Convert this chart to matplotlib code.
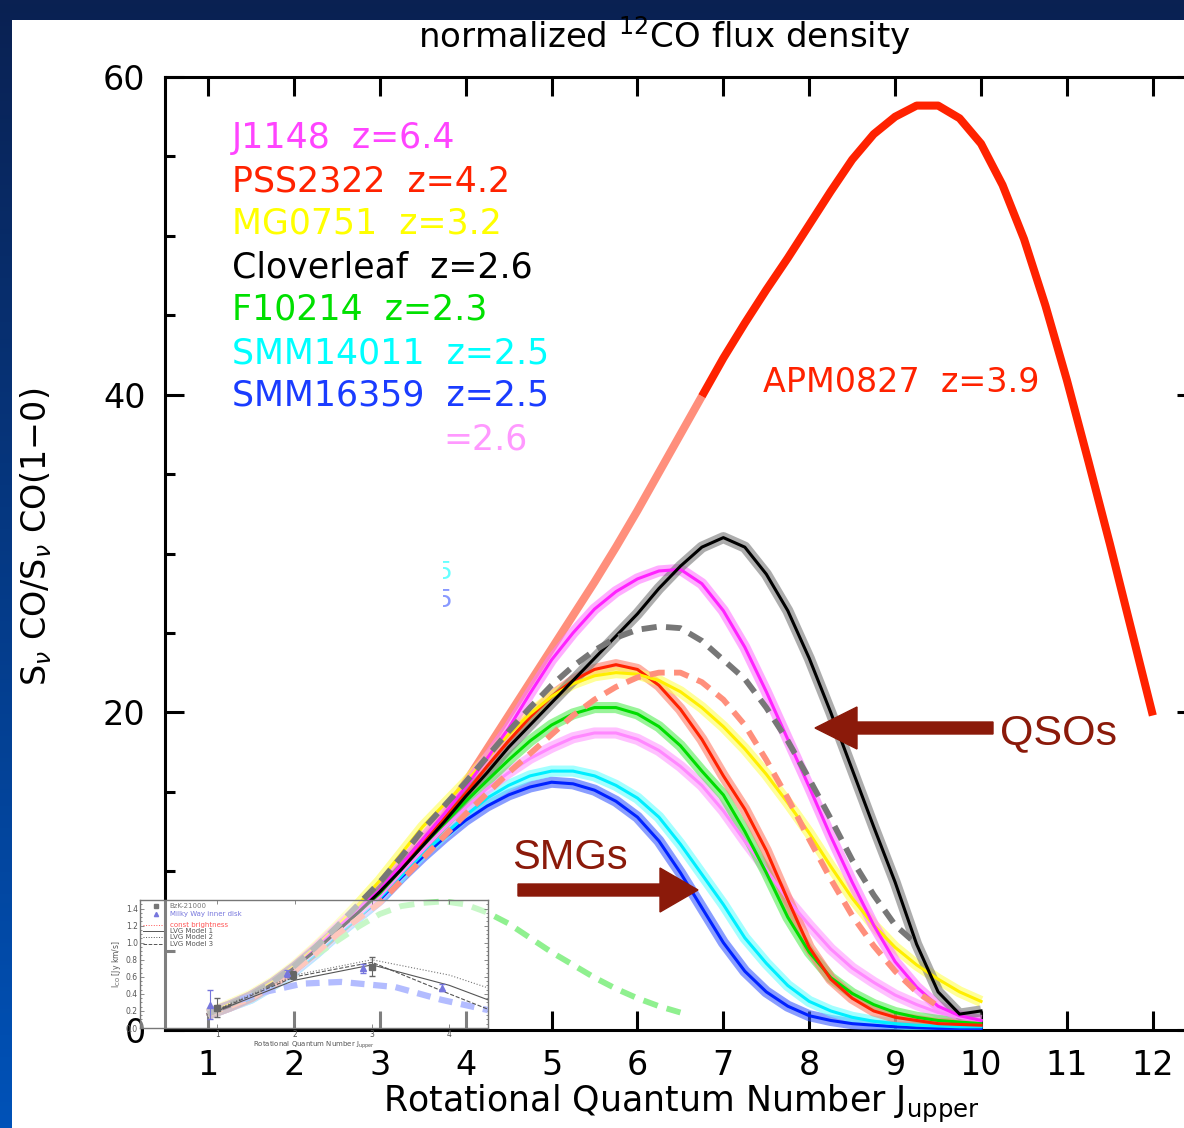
import numpy as np
import matplotlib
matplotlib.use("Agg")
import matplotlib.pyplot as plt
from matplotlib.transforms import Affine2D
from matplotlib.patches import Rectangle, FancyArrow
from matplotlib.ticker import MultipleLocator, FixedLocator
from matplotlib.colors import to_rgb

# ---------------- data ----------------
J = [1, 1.25, 1.5, 1.75, 2, 2.25, 2.5, 2.75, 3, 3.25, 3.5, 3.75, 4, 4.25, 4.5, 4.75,
     5, 5.25, 5.5, 5.75, 6, 6.25, 6.5, 6.75, 7, 7.25, 7.5, 7.75, 8, 8.25, 8.5, 8.75,
     9, 9.25, 9.5, 9.75, 10]

j1148 = [1, 1.5, 2.1, 2.9, 3.9, 5.1, 6.4, 7.6, 8.8, 10.4, 12.0, 13.6, 15.3, 17.1, 19.0, 21.2,
         23.3, 25.0, 26.5, 27.6, 28.4, 28.9, 29.0, 28.1, 26.4, 24.1, 21.3, 18.3, 15.3, 12.2, 9.3, 6.6,
         4.3, 2.7, 1.5, 0.9, 0.6]
pss2322 = [1, 1.5, 2.1, 2.9, 3.9, 5.1, 6.3, 7.5, 8.7, 10.2, 11.8, 13.3, 14.9, 16.6, 18.2, 19.7,
           21.0, 22.0, 22.7, 23.0, 22.7, 21.7, 20.2, 18.3, 16.0, 13.9, 11.3, 8.2, 5.2, 3.2, 2.0, 1.2,
           0.8, 0.6, 0.4, 0.35, 0.3]
mg0751 = [1, 1.6, 2.2, 3.0, 4.0, 5.2, 6.5, 7.9, 9.4, 11.1, 12.8, 14.2, 15.6, 17.1, 18.6, 19.9,
          21.0, 21.8, 22.3, 22.5, 22.4, 22.0, 21.3, 20.3, 19.1, 17.7, 16.1, 14.3, 12.4, 10.3, 8.3, 6.6,
          5.2, 4.1, 3.2, 2.4, 1.8]
cloverleaf = [1, 1.5, 2.1, 2.9, 3.9, 5.0, 6.2, 7.4, 8.7, 10.1, 11.6, 13.1, 14.7, 16.2, 17.8, 19.2,
              20.6, 22.0, 23.4, 24.8, 26.2, 27.8, 29.2, 30.4, 31.0, 30.4, 28.7, 26.4, 23.4, 20.0, 16.4, 12.8,
              9.3, 5.4, 2.4, 1.0, 1.2]
f10214 = [1, 1.5, 2.1, 2.9, 3.9, 5.0, 6.2, 7.4, 8.6, 10.1, 11.6, 13.0, 14.4, 15.7, 17.0, 18.2,
          19.2, 19.9, 20.3, 20.3, 19.9, 19.1, 17.9, 16.3, 14.8, 12.5, 9.9, 7.1, 4.9, 3.3, 2.3, 1.6,
          1.1, 0.8, 0.6, 0.5, 0.4]
smm14011 = [1, 1.5, 2.0, 2.8, 3.7, 4.8, 6.0, 7.1, 8.3, 9.7, 11.1, 12.3, 13.5, 14.6, 15.4, 16.0,
            16.3, 16.3, 16.0, 15.4, 14.6, 13.4, 11.7, 9.8, 7.9, 5.8, 4.2, 2.8, 1.8, 1.2, 0.8, 0.55,
            0.4, 0.3, 0.25, 0.2, 0.2]
smm16359 = [1, 1.5, 2.0, 2.8, 3.7, 4.8, 6.0, 7.1, 8.2, 9.6, 10.9, 12.1, 13.2, 14.1, 14.8, 15.3,
            15.6, 15.5, 15.1, 14.4, 13.4, 11.9, 9.9, 7.7, 5.5, 3.7, 2.4, 1.5, 0.9, 0.6, 0.4, 0.3,
            0.2, 0.15, 0.1, 0.1, 0.1]
hidden26 = [1, 1.5, 2.1, 2.9, 3.8, 4.9, 6.1, 7.2, 8.4, 9.9, 11.3, 12.7, 14.0, 15.2, 16.2, 17.1,
            17.8, 18.4, 18.7, 18.7, 18.3, 17.6, 16.6, 15.4, 13.8, 11.9, 10.1, 8.2, 6.6, 5.1, 3.9, 3.0,
            2.2, 1.6, 1.1, 0.8, 0.6]

J_gray_dash = J[:34]
gray_dash = [1, 1.6, 2.2, 3.0, 4.0, 5.2, 6.5, 7.9, 9.3, 10.9, 12.6, 14.1, 15.6, 17.2, 18.8, 20.3,
             21.7, 22.9, 23.9, 24.7, 25.2, 25.4, 25.3, 24.5, 23.3, 22.1, 20.3, 18.2, 15.8, 13.3, 10.7, 8.5,
             6.6, 5.4]
J_salmon_dash = J[:35]
salmon_dash = [1, 1.5, 2.0, 2.8, 3.7, 4.8, 6.0, 7.0, 8.0, 9.4, 10.8, 12.2, 13.6, 14.9, 16.2, 17.4,
               18.6, 19.8, 20.8, 21.6, 22.2, 22.5, 22.5, 21.9, 20.8, 19.2, 17.0, 14.6, 12.0, 9.5, 7.2, 5.3,
               3.7, 2.4, 1.5]
J_green_dash = J[:23]
green_dash = [1, 1.5, 2.1, 2.9, 3.8, 4.7, 5.6, 6.5, 7.3, 7.8, 8.0, 8.1, 7.9, 7.4, 6.7, 5.8,
              4.9, 4.1, 3.3, 2.6, 2.0, 1.5, 1.1]

J_apm = J + [10.25, 10.5, 10.75, 11, 11.25, 11.5, 11.75, 12]
apm0827 = [1, 1.5, 2.2, 3.0, 4.0, 5.1, 6.3, 7.6, 8.9, 10.1, 11.5, 13.5, 15.6, 17.7, 19.8, 21.9,
           24.0, 26.1, 28.2, 30.4, 32.7, 35.1, 37.5, 39.9, 42.3, 44.5, 46.6, 48.6, 50.7, 52.8, 54.8, 56.4,
           57.5, 58.2, 58.2, 57.4, 55.8, 53.2, 49.8, 45.6, 40.9, 35.8, 30.6, 25.2, 19.8]
apm_split_J = 6.75

legend_labels = ["J1148  z=6.4", "PSS2322  z=4.2", "MG0751  z=3.2", "Cloverleaf  z=2.6",
                 "F10214  z=2.3", "SMM14011  z=2.5", "SMM16359  z=2.5"]
legend_colors = ["#ff44ff", "#ff2200", "#ffff00", "#000000", "#00e000", "#00ffff", "#1a3cff"]

x_ticks = list(range(1, 13))
y_major = [0, 20, 40, 60]

# inset data (CO SLED of BzK-21000 / Milky Way)
bzk_J = [1.0, 1.98, 3.0]
bzk_v = [0.24, 0.62, 0.72]
bzk_e = [0.11, 0.05, 0.11]
mw_J = [0.9, 1.9, 2.88, 3.9]
mw_v = [0.27, 0.64, 0.70, 0.47]
mw_e = [0.17, 0.04, 0.05, 0.04]
lvg_J = [1, 2, 3, 4, 4.5]
lvg1 = [0.20, 0.56, 0.74, 0.50, 0.33]
lvg2 = [0.22, 0.62, 0.80, 0.62, 0.47]
lvg3 = [0.21, 0.60, 0.77, 0.40, 0.22]
lb_J = [1.3, 1.6, 2.1, 2.6, 3.3, 3.9, 4.5]
lb_v = [0.33, 0.42, 0.52, 0.54, 0.48, 0.33, 0.21]

# ---------------- figure ----------------
W, H = 1184, 1128
fig = plt.figure(figsize=(W / 100, H / 100), dpi=100)
T = Affine2D().scale(1 / W, -1 / H).translate(0, 1) + fig.transFigure

bg = fig.add_axes([0, 0, 1, 1], zorder=-10)
g = np.linspace(0, 1, 256)[:, None, None]
ct, cb = np.array(to_rgb("#0a2152")), np.array(to_rgb("#0052b8"))
bg.imshow(ct + (cb - ct) * g, aspect="auto", extent=[0, 1, 0, 1])
bg.axis("off")
fig.patches.append(Rectangle((12, 20), W - 12, H - 20, transform=T,
                             facecolor="white", edgecolor="none", zorder=-5))

unit = 85.9
ax = fig.add_axes([165 / W, (H - 1030) / H, 12 * unit / W, (1030 - 77) / H], zorder=1)
ax.set_facecolor("none")
ax.set_xlim(0.5, 12.5)
ax.set_ylim(0, 60)

# APM0827 (light part + bright part)
Ja = np.array(J_apm); Va = np.array(apm0827)
lo = Ja <= apm_split_J
hi = Ja >= apm_split_J
ax.plot(Ja[lo], Va[lo], color="#ff8f7c", lw=5.8, solid_capstyle="butt", solid_joinstyle="round", zorder=2)
ax.plot(Ja[hi], Va[hi], color="#ff2200", lw=5.8, solid_capstyle="butt", solid_joinstyle="round", zorder=2)

bands = [
    (smm16359, "#3a5cff", "#0022ff"),
    (smm14011, "#66ffff", "#00eeff"),
    (hidden26, "#ff99ff", "#ff88ff"),
    (f10214, "#55ee55", "#00dd00"),
    (pss2322, "#ff7a66", "#ff2200"),
    (mg0751, "#ffff55", "#ffee00"),
    (j1148, "#ff77ff", "#ff22ff"),
    (cloverleaf, "#777777", "#000000"),
]
for vals, cband, cline in bands:
    ax.plot(J, vals, color=cband, lw=8, alpha=0.6, solid_capstyle="butt",
            solid_joinstyle="round", zorder=3)
    ax.plot(J, vals, color=cline, lw=2.2, solid_joinstyle="round", zorder=3.1)

for jj, vals, c in [(J_green_dash, green_dash, "#8ff08f"),
                    (J_salmon_dash, salmon_dash, "#ff8f7c"),
                    (J_gray_dash, gray_dash, "#777777")]:
    ax.plot(jj, vals, color=c, lw=4.2, dashes=(2.6, 1.6), zorder=3.5)

for s in ax.spines.values():
    s.set_linewidth(2.2)
ax.xaxis.set_major_locator(FixedLocator(x_ticks))
ax.yaxis.set_major_locator(FixedLocator(y_major))
ax.yaxis.set_minor_locator(MultipleLocator(5))
ax.tick_params(which="major", direction="in", length=14, width=2.2,
               top=True, right=True, labelsize=24)
ax.tick_params(which="minor", direction="in", length=7, width=2.2, top=False, right=True)
ax.tick_params(axis="x", pad=14)
ax.tick_params(axis="y", pad=14)

# ---------------- inset ----------------
axi = fig.add_axes([140 / W, (H - 1028) / H, 348 / W, 128 / H], zorder=2)
axi.set_facecolor((1, 1, 1, 0.5))
axi.set_xlim(0, 4.5)
axi.set_ylim(0, 1.5)
for s in axi.spines.values():
    s.set_color("#777777"); s.set_linewidth(1.0)
axi.xaxis.set_major_locator(FixedLocator([1, 2, 3, 4]))
axi.yaxis.set_major_locator(MultipleLocator(0.2))
axi.yaxis.set_minor_locator(MultipleLocator(0.05))
axi.tick_params(which="both", direction="in", top=True, right=True, colors="#777777",
                labelcolor="#555555", labelsize=5.5, length=3, width=0.6, pad=1.5)
axi.tick_params(which="minor", length=1.5)
axi.set_yticklabels([f"{v:.1f}" for v in axi.get_yticks()])
axi.plot(lb_J, lb_v, color="#b3bcff", lw=4.5, dashes=(2.2, 1.4), zorder=2)
axi.plot(lvg_J, lvg1, color="#555555", lw=0.8, zorder=3)
axi.plot(lvg_J, lvg2, color="#777777", lw=0.8, ls=":", zorder=3)
axi.plot(lvg_J, lvg3, color="#555555", lw=0.8, ls="--", zorder=3)
axi.errorbar(bzk_J, bzk_v, yerr=bzk_e, fmt="s", color="#666666", ms=5, lw=0.8, capsize=2, zorder=4)
axi.errorbar(mw_J, mw_v, yerr=mw_e, fmt="^", color="#7777dd", ms=4, lw=0.8, capsize=2, zorder=4)
axi.set_xlabel(r"Rotational Quantum Number J$_{\rm upper}$", fontsize=5, color="#555555", labelpad=0.5)
axi.set_ylabel("I$_{\\rm CO}$ [Jy km/s]", fontsize=5.5, color="#555555", labelpad=2)

leg_items = [("BzK-21000", "#777777", "s"), ("Milky Way inner disk", "#7777dd", "^"),
             ("const brightness", "#ff5555", ":"), ("LVG Model 1", "#555555", "-"),
             ("LVG Model 2", "#555555", ":"), ("LVG Model 3", "#555555", "--")]
leg_y = [0.953, 0.89, 0.808, 0.757, 0.71, 0.657]
for (lab, c, m), yy in zip(leg_items, leg_y):
    if m in ("s", "^"):
        axi.plot([0.045], [yy], marker=m, color=c, ms=3, transform=axi.transAxes, zorder=5)
    else:
        axi.plot([0.01, 0.065], [yy, yy], color=c, ls=m, lw=0.7, transform=axi.transAxes, zorder=5)
    axi.text(0.085, yy, lab, color=c, fontsize=5, va="center", transform=axi.transAxes)

# ---------------- texts ----------------
tkw = dict(transform=T, family="DejaVu Sans", va="center", zorder=6)
fig.text(664, 36, r"normalized $^{12}$CO flux density", ha="center", fontsize=24.5, **tkw)
fig.text(36, 537, r"S$_\nu$ CO/S$_\nu$ CO(1$-$0)", ha="center", rotation=90, fontsize=24, **tkw)
fig.text(681, 1104, r"Rotational Quantum Number J$_{\rm upper}$", ha="center", fontsize=25, **tkw)

leg_ys = [138, 181, 224, 267, 310, 353, 396]
for lab, c, yy in zip(legend_labels, legend_colors, leg_ys):
    fig.text(232, yy, lab, color=c, ha="left", fontsize=25, **tkw)
fig.text(443, 440, "=2.6", color="#ff99ff", ha="left", fontsize=25, **tkw)
clip = Rectangle((443, 540), 60, 100, transform=T, visible=False)
fig.patches.append(clip)
for yy, c in [(572, "#66ffff"), (600, "#8899ff")]:
    t = fig.text(452, yy, "5", color=c, ha="right", fontsize=18, **tkw)
    t.set_clip_path(clip)

fig.text(763, 383, "APM0827  z=3.9", color="#ff2200", ha="left", fontsize=24, **tkw)

ar_c = "#8b1a0a"
fig.patches.append(FancyArrow(993, 728, -178, 0, width=12, head_width=42, head_length=42,
                              length_includes_head=True, color=ar_c, transform=T, zorder=6))
fig.patches.append(FancyArrow(518, 890, 180, 0, width=12, head_width=44, head_length=38,
                              length_includes_head=True, color=ar_c, transform=T, zorder=6))
fig.text(1000, 733, "QSOs", color=ar_c, ha="left", fontsize=31, **{**tkw, "family": "Liberation Sans"})
fig.text(512, 858, "SMGs", color=ar_c, ha="left", fontsize=30, **{**tkw, "family": "Liberation Sans"})

fig.savefig("out.png", dpi=100)
